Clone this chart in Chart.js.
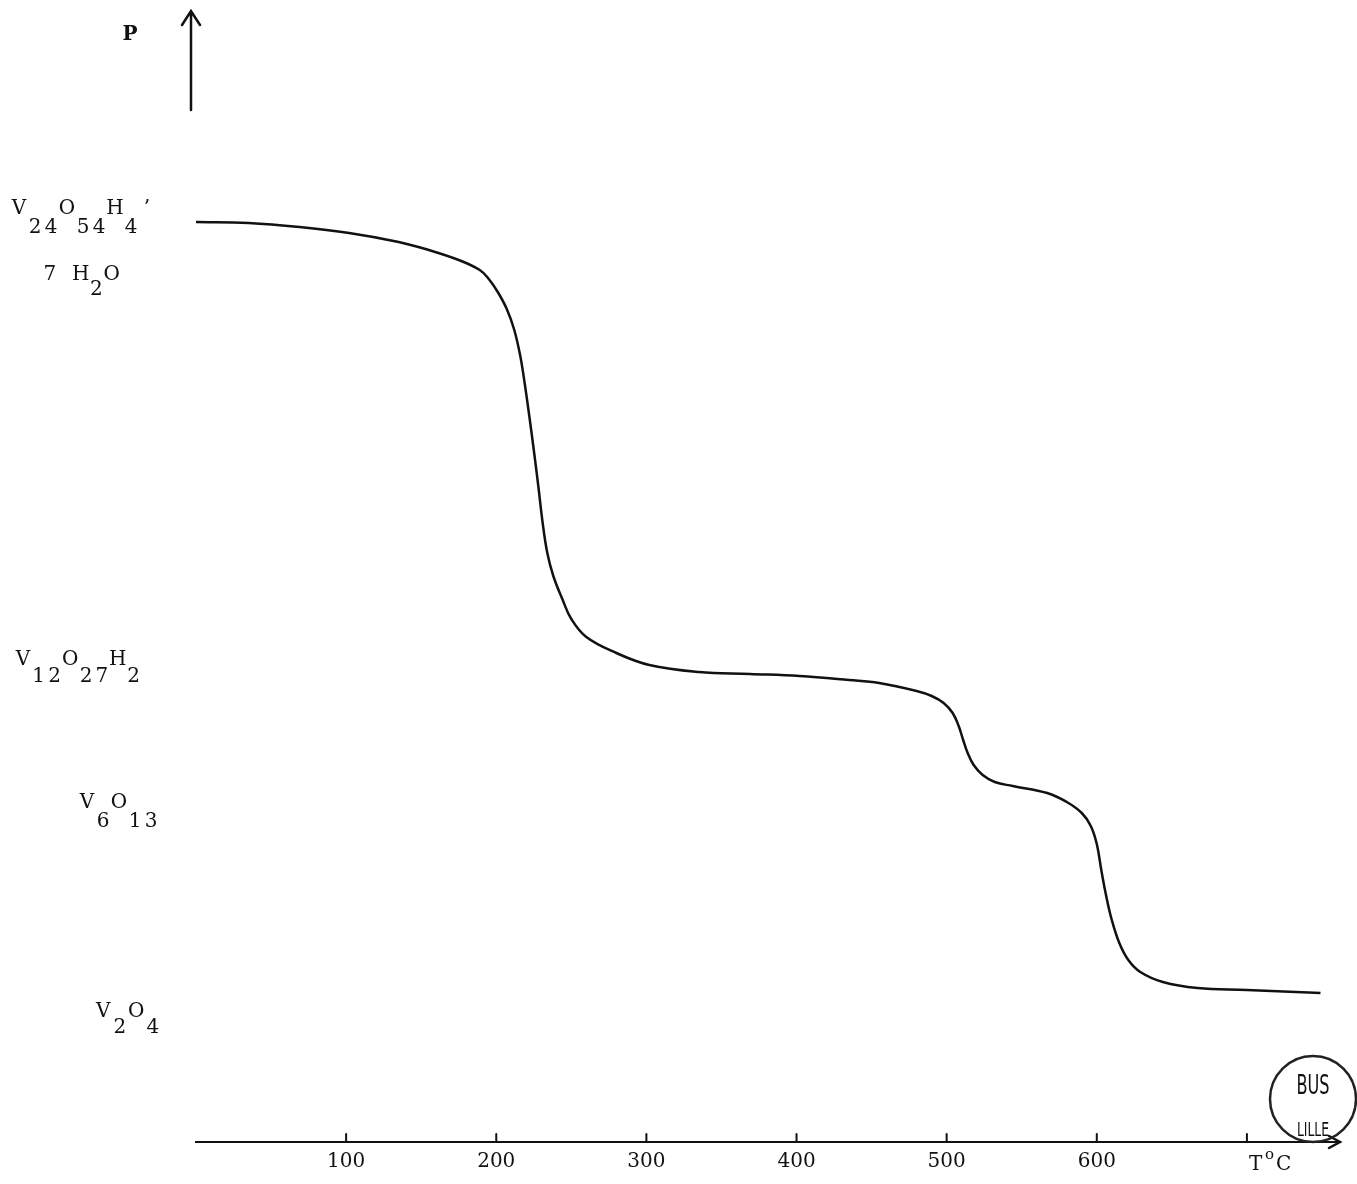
<!DOCTYPE html>
<html>
<head>
<meta charset="utf-8">
<script src="https://cdn.jsdelivr.net/npm/chart.js@4.4.1/dist/chart.umd.min.js"></script>
<style>
  html, body { margin: 0; padding: 0; background: #fff; }
  #wrap { width: 1357px; height: 1184px; }
</style>
</head>
<body>
<div id="wrap"><canvas id="tgaChart"></canvas></div>
<script>
// Thermogravimetric curve: temperature (°C) against weight P (arbitrary units)
const temperatures = [0, 35, 69, 102, 135, 155, 175, 189, 195, 201, 207, 212, 216, 219, 222, 225, 228, 231,
    234, 238, 244, 250, 260, 280, 302, 335, 369, 402, 435, 455, 480, 490, 498, 504, 508, 511, 514, 518,
    524, 532, 544, 567, 580, 590, 596, 600, 603, 606, 610, 615, 621, 629, 644, 667, 700, 749];
const weights = [92.0, 91.9, 91.5, 90.9, 90.0, 89.2, 88.2, 87.2, 86.3, 85.0, 83.3, 81.2, 78.6, 75.8, 72.6,
    69.2, 65.6, 61.8, 58.9, 56.6, 54.3, 52.3, 50.5, 48.9, 47.7, 47.0, 46.8, 46.6, 46.2, 45.9, 45.1, 44.6,
    43.9, 42.9, 41.6, 40.2, 38.9, 37.7, 36.7, 36.0, 35.6, 34.9, 34.0, 32.9, 31.6, 29.8, 27.2, 24.8, 22.2,
    19.9, 18.2, 17.0, 16.0, 15.4, 15.2, 14.9];
const tickValues = [100, 200, 300, 400, 500, 600, 700];
const tickLabels = ['100', '200', '300', '400', '500', '600', ''];

const ink = '#111';
const serif = '"DejaVu Serif", "Liberation Serif", serif';

// Draw a formula char by char on a typewriter grid, some chars dropped as subscripts
function drawFormula(ctx, parts, x, base, sub, step) {
    let cx = x;
    parts.forEach(([txt, low]) => {
        for (const ch of txt) {
            ctx.fillText(ch, cx + step / 2, low ? sub : base);
            cx += step;
        }
    });
}

const decorations = {
    id: 'decorations',
    afterDraw(chart) {
        const ctx = chart.ctx;
        const xs = chart.scales.x;
        const area = chart.chartArea;
        const axisY = area.bottom;
        ctx.save();
        ctx.strokeStyle = ink;
        ctx.fillStyle = ink;
        ctx.lineCap = 'round';

        // small tick marks standing on the axis
        ctx.lineWidth = 2;
        tickValues.forEach((v) => {
            const px = xs.getPixelForValue(v);
            ctx.beginPath();
            ctx.moveTo(px, axisY);
            ctx.lineTo(px, axisY - 8);
            ctx.stroke();
        });

        // arrow head at the end of the T axis
        ctx.lineWidth = 2.5;
        ctx.beginPath();
        ctx.moveTo(area.right - 11, axisY - 6);
        ctx.lineTo(area.right, axisY);
        ctx.lineTo(area.right - 11, axisY + 6);
        ctx.stroke();

        // P arrow
        ctx.beginPath();
        ctx.moveTo(191, 110);
        ctx.lineTo(191, 11);
        ctx.moveTo(182, 25);
        ctx.lineTo(191, 11);
        ctx.lineTo(200, 25);
        ctx.stroke();

        ctx.font = 'bold 20px ' + serif;
        ctx.textAlign = 'center';
        ctx.textBaseline = 'alphabetic';
        ctx.fillText('P', 130, 40);

        // compound labels
        ctx.font = '20px ' + serif;
        drawFormula(ctx, [['V', 0], ['24', 1], ['O', 0], ['54', 1], ['H', 0], ['4', 1], ['\u2019', 0]], 11, 214, 233, 16);
        drawFormula(ctx, [['7 H', 0], ['2', 1], ['O', 0]], 42, 280, 295, 15.5);
        drawFormula(ctx, [['V', 0], ['12', 1], ['O', 0], ['27', 1], ['H', 0], ['2', 1]], 15, 665, 682, 15.8);
        drawFormula(ctx, [['V', 0], ['6', 1], ['O', 0], ['13', 1]], 79, 808, 827, 16);
        drawFormula(ctx, [['V', 0], ['2', 1], ['O', 0], ['4', 1]], 95, 1017, 1033, 16.5);

        // axis unit
        ctx.textAlign = 'left';
        ctx.fillText('T', 1249, 1170);
        ctx.font = '15px ' + serif;
        ctx.fillText('o', 1265, 1159);
        ctx.font = '20px ' + serif;
        ctx.fillText('C', 1276, 1170);

        // library stamp
        ctx.lineWidth = 2.5;
        ctx.strokeStyle = '#222';
        ctx.beginPath();
        ctx.arc(1313, 1099, 43, 0, Math.PI * 2);
        ctx.stroke();
        ctx.save();
        ctx.translate(1313, 1094);
        ctx.scale(0.62, 1);
        ctx.textAlign = 'center';
        ctx.font = '26px "DejaVu Sans", sans-serif';
        ctx.fillText('BUS', 0, 0);
        ctx.font = '20px "DejaVu Sans", sans-serif';
        ctx.fillText('LILLE', 0, 42);
        ctx.restore();

        ctx.restore();
    }
};

document.addEventListener('DOMContentLoaded', () => {
    const ctx = document.getElementById('tgaChart').getContext('2d');

    const points = temperatures.map((t, i) => ({ x: t, y: weights[i] }));

    new Chart(ctx, {
        type: 'scatter',
        data: {
            datasets: [
                {
                    label: 'P',
                    data: points,
                    showLine: true,
                    borderColor: ink,
                    borderWidth: 2.5,
                    pointRadius: 0,
                    tension: 0.4,
                },
            ],
        },
        options: {
            responsive: true,
            maintainAspectRatio: false,
            animation: false,
            layout: {
                padding: { left: 196, right: 17, top: 10, bottom: 2 },
            },
            plugins: {
                legend: { display: false },
                tooltip: { enabled: false },
            },
            scales: {
                x: {
                    type: 'linear',
                    min: 0,
                    max: 762,
                    afterBuildTicks: (scale) => {
                        scale.ticks = tickValues.map((v) => ({ value: v }));
                    },
                    ticks: {
                        callback: (value, index) => tickLabels[index],
                        color: ink,
                        font: { family: serif, size: 20, lineHeight: 1 },
                        padding: 10,
                        maxRotation: 0,
                        autoSkip: false,
                    },
                    grid: { display: false, drawTicks: false },
                    border: { display: true, color: ink, width: 2 },
                },
                y: {
                    display: false,
                    min: 0,
                    max: 113.2,
                },
            },
        },
        plugins: [decorations],
    });
});
</script>
</body>
</html>
